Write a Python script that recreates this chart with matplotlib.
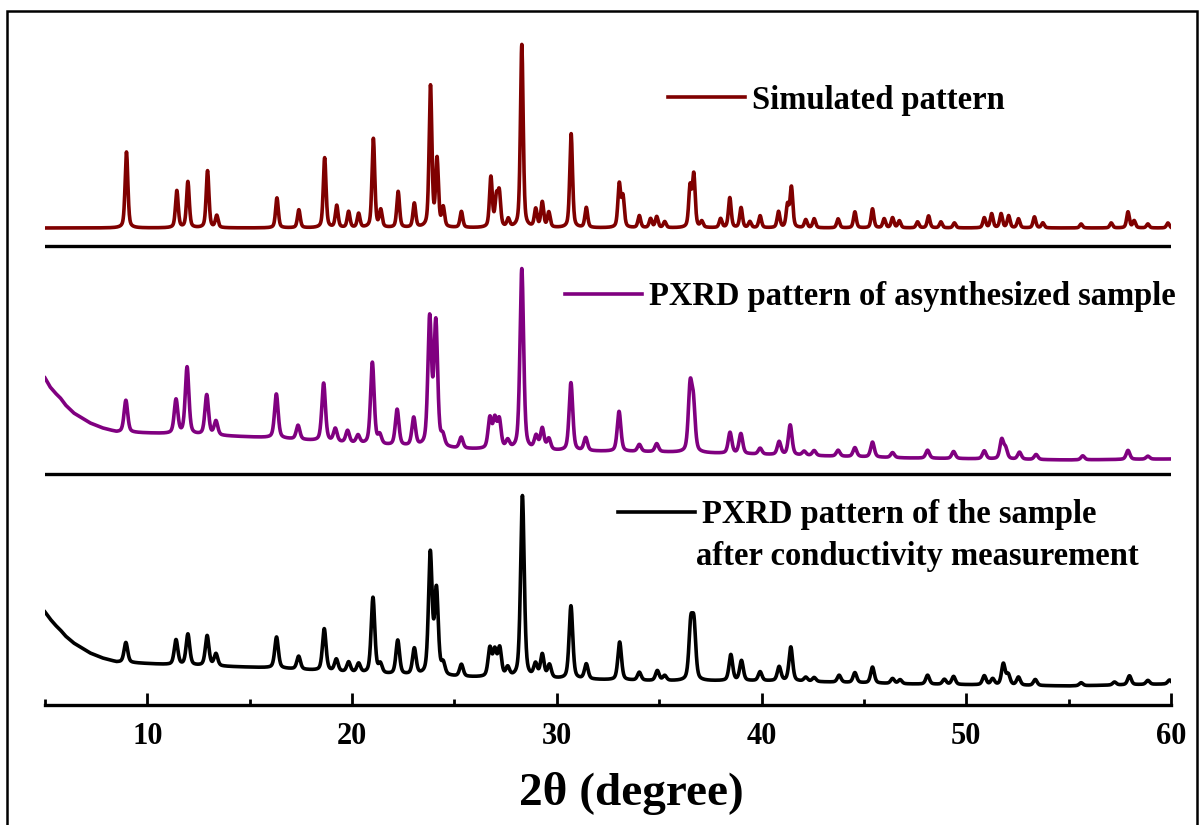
import matplotlib
matplotlib.use("Agg")
import matplotlib.pyplot as plt
from matplotlib.ticker import MultipleLocator
from matplotlib.patches import Rectangle
import numpy as np

plt.rcParams['font.family'] = ['Liberation Serif', 'DejaVu Serif']
plt.rcParams['font.weight'] = 'bold'

# --- peak lists: 2theta (deg), height (a.u.) ---
sim_pos = [8.98, 11.44, 11.98, 12.94, 13.39, 16.33, 17.40, 18.66, 19.25, 19.83,
           20.32, 21.04, 21.40, 22.25, 23.04, 23.83, 24.15, 24.45, 25.34, 26.78,
           27.05, 27.19, 27.63, 28.29, 28.97, 29.29, 29.61, 30.70, 31.44, 33.05,
           33.23, 34.03, 34.58, 34.88, 35.27, 36.51, 36.69, 37.08, 38.00, 38.45,
           39.00, 39.43, 39.93, 40.83, 41.27, 41.46, 42.16, 42.57, 43.74, 44.56,
           45.42, 45.99, 46.40, 46.73, 47.62, 48.16, 48.76, 49.42, 50.88, 51.24,
           51.70, 52.07, 52.55, 53.33, 53.74, 55.61, 57.08, 57.90, 58.20, 58.87,
           59.85]
sim_int = [76, 37, 46, 57, 12, 30, 18, 70, 22, 16,
           14, 89, 17, 36, 24, 141, 67, 19, 16, 50,
           28, 33, 8, 183, 18, 25, 15, 94, 20, 43,
           30, 12, 9, 11, 6, 40, 52, 6, 9, 30,
           20, 6, 12, 16, 22, 40, 8, 9, 9, 16,
           19, 9, 10, 7, 6, 12, 6, 5, 10, 14,
           14, 12, 9, 11, 5, 4, 5, 16, 7, 4,
           5]

asyn_pos = [8.95, 11.40, 11.94, 12.90, 13.35, 16.30, 17.36, 18.61, 19.18, 19.78,
            20.29, 20.99, 21.35, 22.20, 23.01, 23.79, 24.09, 24.43, 25.33, 26.73,
            26.97, 27.19, 27.60, 28.29, 28.99, 29.29, 29.61, 30.69, 31.41, 33.04,
            34.03, 34.88, 36.51, 36.67, 38.46, 38.99, 39.93, 40.86, 41.40, 42.08,
            42.57, 43.74, 44.56, 45.42, 46.40, 48.11, 49.38, 50.88, 51.73, 51.92,
            52.60, 53.41, 55.69, 57.90, 58.87]
asyn_int = [32, 34, 67, 40, 14, 44, 14, 58, 13, 12,
            8, 82, 9, 36, 28, 127, 123, 10, 11, 30,
            28, 28, 8, 181, 13, 21, 11, 68, 13, 40,
            7, 8, 62, 45, 21, 20, 6, 13, 30, 4,
            5, 6, 9, 15, 5, 8, 7, 8, 19, 10,
            7, 5, 4, 9, 3]
asyn_bg_x = [5.0, 5.25, 5.5, 5.75, 6.0, 6.4, 6.8, 7.2, 7.8, 8.5, 11.3, 16.2, 21.0, 25.0, 30.0, 35.0, 41.0, 47.0, 55.0, 60.0]
asyn_bg_y = [82, 73, 67, 62, 55, 47, 42, 37, 32, 28, 26, 22, 15, 11, 9, 8, 5, 2, 0, 1]

cond_pos = [8.95, 11.40, 11.98, 12.92, 13.35, 16.31, 17.39, 18.64, 19.23, 19.83,
            20.32, 21.02, 21.38, 22.23, 23.04, 23.82, 24.12, 24.45, 25.34, 26.73,
            26.97, 27.21, 27.60, 28.32, 28.96, 29.29, 29.64, 30.69, 31.44, 33.07,
            34.03, 34.91, 35.27, 36.54, 36.70, 38.50, 39.02, 39.93, 40.86, 41.43,
            42.16, 42.57, 43.79, 44.56, 45.42, 46.40, 46.77, 48.11, 48.93, 49.38,
            50.88, 51.29, 51.81, 52.05, 52.55, 53.37, 55.61, 57.24, 57.97, 58.87,
            59.93]
cond_int = [20, 25, 31, 30, 12, 31, 13, 42, 12, 10,
            9, 76, 9, 34, 26, 121, 84, 11, 12, 28,
            25, 28, 9, 182, 13, 23, 13, 73, 15, 38,
            8, 10, 5, 52, 52, 26, 20, 9, 14, 34,
            4, 4, 7, 10, 16, 5, 4, 9, 5, 8,
            9, 6, 21, 10, 8, 6, 3, 3, 9, 4,
            4]
cond_bg_x = [5.0, 5.25, 5.5, 5.75, 6.0, 6.4, 6.8, 7.2, 7.8, 8.5, 11.3, 16.2, 21.0, 25.0, 30.0, 35.0, 41.0, 47.0, 55.0, 60.0]
cond_bg_y = [74, 67, 61, 56, 50, 43, 38, 33, 28, 24, 21, 18, 12, 9, 7, 5, 5, 2, 0, 2]

labels = ["Simulated pattern", "PXRD pattern of asynthesized sample",
          "PXRD pattern of the sample", "after conductivity measurement"]
offsets = [477, 245, 19]


def pattern(x, pos, hts, fwhm, eta=0.45):
    y = np.zeros_like(x)
    for p, h in zip(pos, hts):
        d = (x - p) / (fwhm / 2)
        y += h * (eta / (1 + d ** 2) + (1 - eta) * np.exp(-np.log(2) * d ** 2))
    return y


x = np.linspace(5, 60, 5501)
y_sim = pattern(x, sim_pos, sim_int, 0.16) + offsets[0]
y_asyn = pattern(x, asyn_pos, asyn_int, 0.21) + np.interp(x, asyn_bg_x, asyn_bg_y) + offsets[1]
y_cond = pattern(x, cond_pos, cond_int, 0.21) + np.interp(x, cond_bg_x, cond_bg_y) + offsets[2]

W, H = 1203, 825
fig = plt.figure(figsize=(W / 100, H / 100), dpi=100)
ax = fig.add_axes([45 / W, 120 / H, 1126 / W, 695 / H])

l1, = ax.plot(x, y_sim, color="#7f0000", lw=2.6)
l2, = ax.plot(x, y_asyn, color="#800080", lw=2.6)
l3, = ax.plot(x, y_cond, color="black", lw=2.6)

ax.axhline(705 - 246, color="black", lw=2.4)
ax.axhline(705 - 474, color="black", lw=2.4)

ax.set_xlim(5, 60)
ax.set_ylim(0, 695)
ax.set_yticks([])
for s in ["top", "left", "right"]:
    ax.spines[s].set_visible(False)
ax.spines["bottom"].set_linewidth(2.4)
ax.xaxis.set_major_locator(MultipleLocator(10))
ax.xaxis.set_minor_locator(MultipleLocator(5))
ax.tick_params(axis="x", which="major", direction="in", length=9, width=2,
               labelsize=22, pad=12)
ax.tick_params(axis="x", which="minor", direction="in", length=4.5, width=2)
for t in ax.get_xticklabels():
    t.set_fontweight("bold")

ax.set_xlabel("2θ (degree)", fontsize=34, fontweight="bold")
ax.xaxis.set_label_coords((631 - 45) / 1126, -67 / 695)

# legends
leg_kw = dict(frameon=False, fontsize=23.5, borderpad=0, borderaxespad=0,
              handlelength=2.36, handletextpad=0.21, loc="center left",
              bbox_transform=fig.transFigure)
lg1 = ax.legend([l1], [labels[0]], bbox_to_anchor=(668 / W, 1 - 100 / H), **leg_kw)
ax.add_artist(lg1)
lg2 = ax.legend([l2], [labels[1]], bbox_to_anchor=(565 / W, 1 - 297 / H), **leg_kw)
ax.add_artist(lg2)
lg3 = ax.legend([l3], [labels[2]], bbox_to_anchor=(618 / W, 1 - 515 / H), **leg_kw)
fig.text(696 / W, 1 - 556 / H, labels[3], fontsize=23.5, fontweight="bold",
         ha="left", va="center")

# outer frame
fig.patches.append(Rectangle((7 / W, -0.1), (1197 - 7) / W, 1.1 - 11 / H,
                             transform=fig.transFigure, fill=False,
                             lw=1.8, ec="black"))

fig.savefig("out.png", dpi=100)
